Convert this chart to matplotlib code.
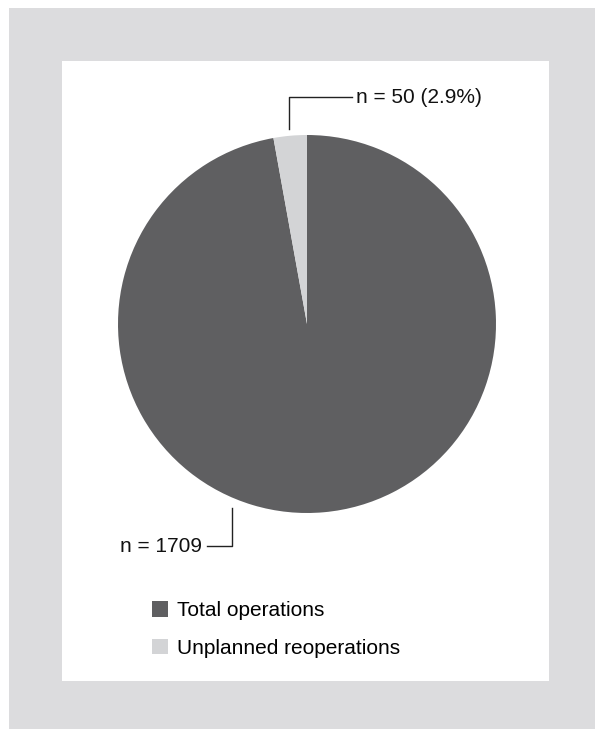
import matplotlib.pyplot as plt
import matplotlib.patches as patches

# dati
labels = ['Total operations', 'Unplanned reoperations']
values = [1709, 50]
colors = ['#5f5f61', '#d3d4d6']
annot = ['n = 1709', 'n = 50 (2.9%)']

plt.rcParams['font.family'] = ['Liberation Sans', 'DejaVu Sans']

W, H = 595, 729
fig = plt.figure(figsize=(W / 100, H / 100), dpi=100)
ax = fig.add_axes([0, 0, 1, 1])
ax.set_xlim(0, W)
ax.set_ylim(0, H)
ax.axis('off')

# cornice grigia e pannello bianco
ax.add_patch(patches.Rectangle((9, 0), W - 9, H - 8, facecolor='#dcdcde', edgecolor='none'))
ax.add_patch(patches.Rectangle((62, H - 681), 549 - 62, 681 - 61, facecolor='white', edgecolor='none'))

# torta
wedges, _ = ax.pie(values, colors=colors, startangle=90, counterclock=False,
                   center=(307, H - 324), radius=189, frame=True)
ax.set_xlim(0, W)
ax.set_ylim(0, H)
ax.set_aspect('equal')
ax.axis('off')

# linee di richiamo
ax.plot([289, 289, 352], [H - 129, H - 97, H - 97], color='#222222', lw=1)
ax.text(356, H - 97, annot[1], fontsize=15, va='center', ha='left', color='#111111')
ax.plot([232, 232, 207], [H - 508, H - 546, H - 546], color='#222222', lw=1)
ax.text(202, H - 546, annot[0], fontsize=15, va='center', ha='right', color='#111111')

# legenda
ax.legend(wedges, labels, loc='upper left', bbox_to_anchor=(152 / W, 1 - 601 / H),
          bbox_transform=fig.transFigure, frameon=False, fontsize=15,
          handlelength=0.77, handleheight=0.77, handletextpad=0.43,
          labelspacing=0.9, borderpad=0, borderaxespad=0)

fig.savefig('out.png', dpi=100)
